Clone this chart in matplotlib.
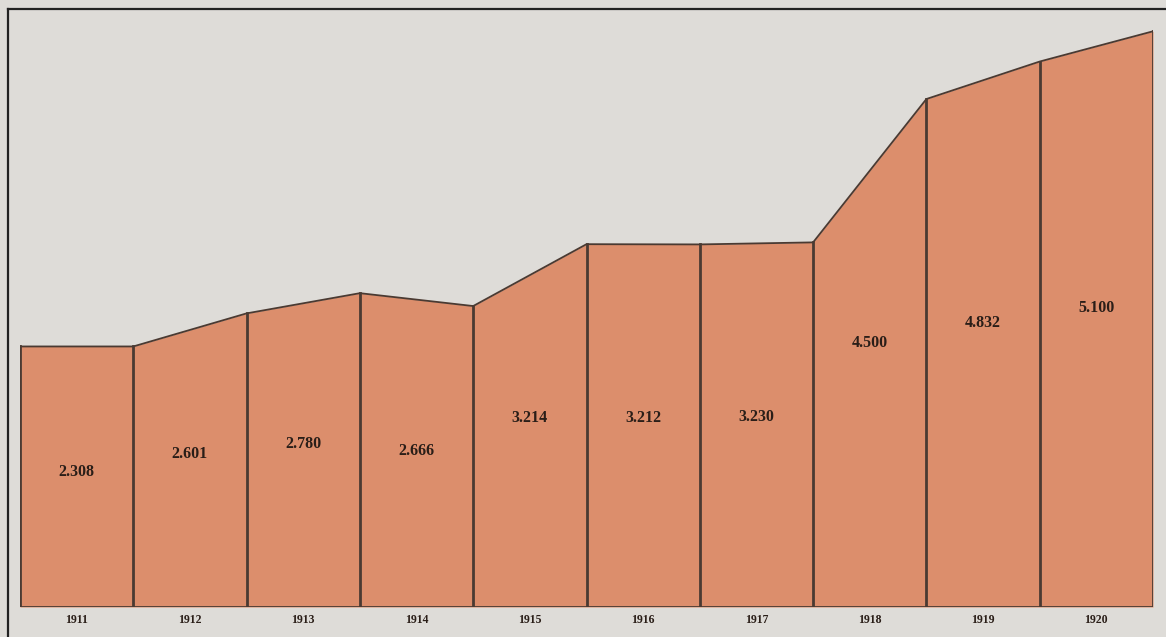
import matplotlib.pyplot as plt
import numpy as np
from matplotlib.lines import Line2D

# data
years = ['1911', '1912', '1913', '1914', '1915', '1916', '1917', '1918', '1919', '1920']
values = [2.308, 2.601, 2.780, 2.666, 3.214, 3.212, 3.230, 4.500, 4.832, 5.100]
value_labels = ['2.308', '2.601', '2.780', '2.666', '3.214', '3.212', '3.230', '4.500', '4.832', '5.100']

paper = '#dedcd8'
fill = '#dc8e6c'
ink = '#4a3a32'

fig = plt.figure(figsize=(11.66, 6.37), dpi=100)
fig.patch.set_facecolor(paper)
ax = fig.add_axes([20/1166, 1 - 607/637, (1153 - 20)/1166, (607 - 20)/637])
ax.set_facecolor(paper)

# edges of each year column; the line starts flat across the first year
edges = np.arange(len(years) + 1)
top = [values[0]] + values
ax.fill_between(edges, 0, top, color=fill, linewidth=0)
ax.plot(edges, top, color=ink, linewidth=1.3)
ax.plot([0, len(years)], [0, 0], color=ink, linewidth=2)
for i, y in zip(edges, top):
    ax.plot([i, i], [0, y], color=ink, linewidth=2)

for i, (lab, v) in enumerate(zip(value_labels, values)):
    ax.text(i + 0.5, v * 0.52, lab, ha='center', va='center',
            fontsize=11.5, family='Liberation Serif', fontweight='bold', color='#2a1e18')
    ax.text(i + 0.5, -0.115, years[i], ha='center', va='center',
            fontsize=8.5, family='Liberation Serif', fontweight='bold', color='#2a1e18',
            clip_on=False)

ax.set_xlim(0, len(years))
ax.set_ylim(0, 5.2)
ax.axis('off')

# printed frame around the plate
fig.add_artist(Line2D([8/1166, 8/1166], [0, 1 - 9/637], color='#222222', linewidth=1.6))
fig.add_artist(Line2D([8/1166, 1], [1 - 9/637, 1 - 9/637], color='#222222', linewidth=1.6))

fig.savefig('out.png', dpi=100, facecolor=paper)
